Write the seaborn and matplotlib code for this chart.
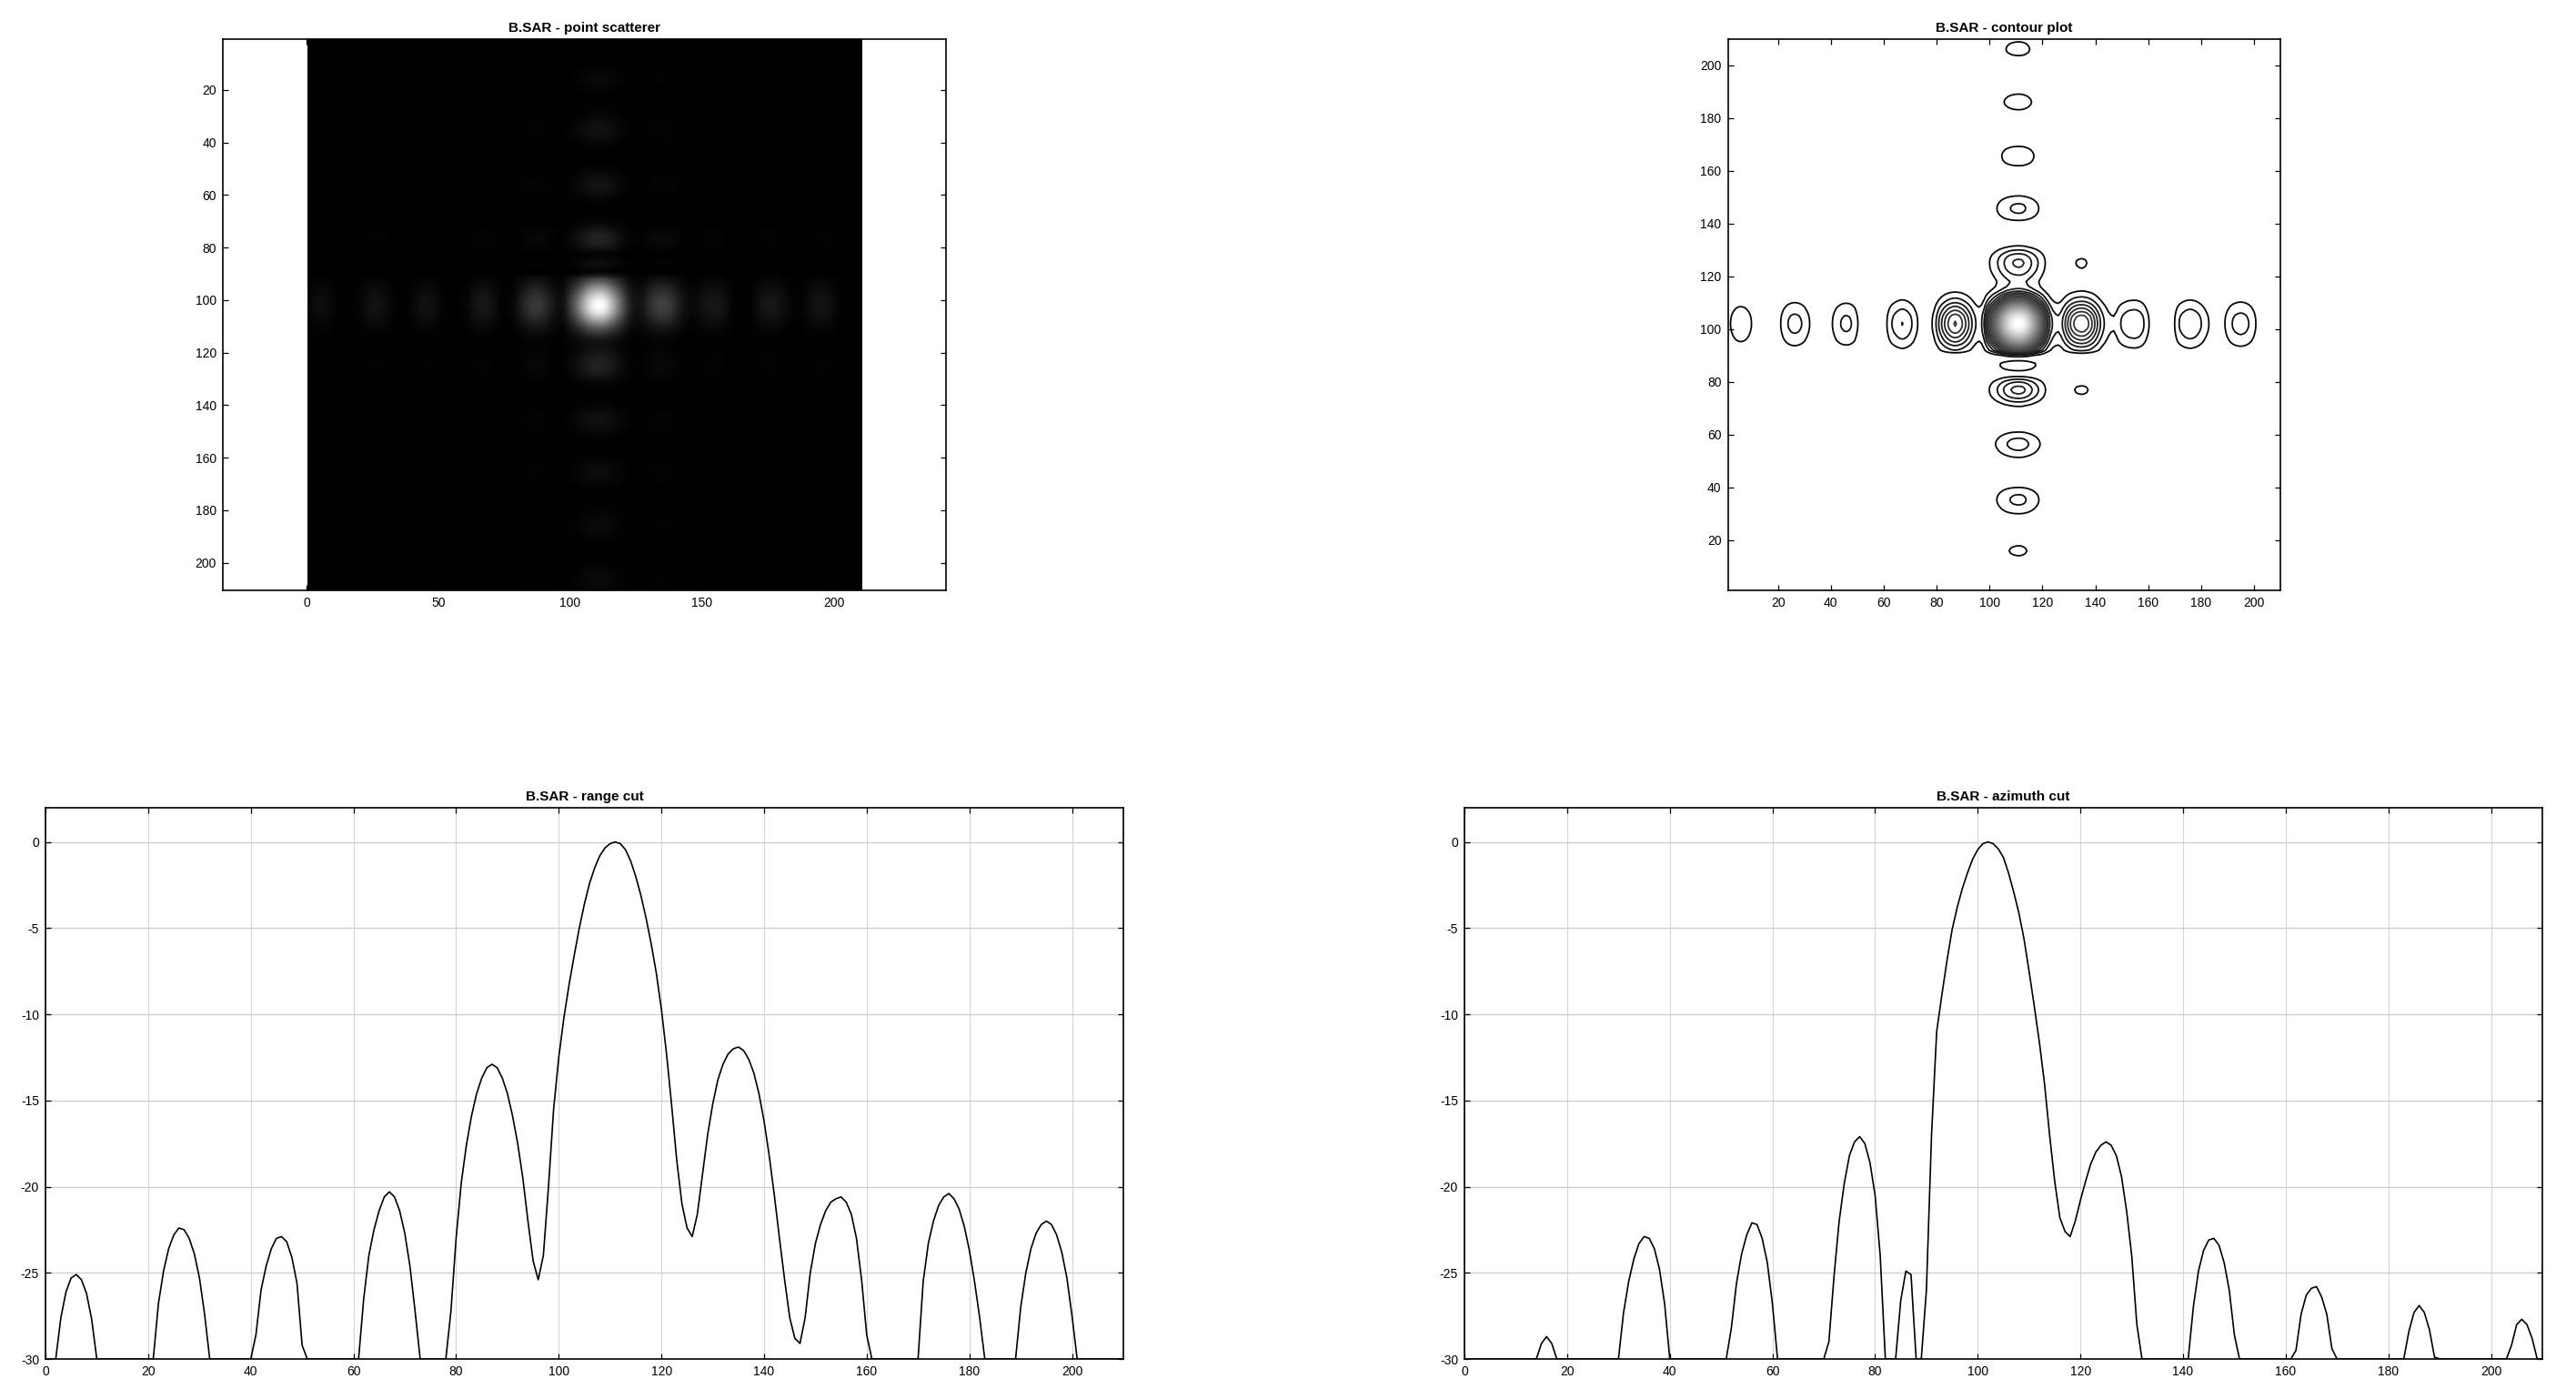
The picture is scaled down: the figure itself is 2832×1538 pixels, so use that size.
import numpy as np
import matplotlib
matplotlib.use('Agg')
import matplotlib.pyplot as plt
import seaborn as sns

# --- Data ---
# cuts in dB, one value per sample 1..210, values under -30 are guesses (they fall off the plot)
samples = list(range(1, 211))
range_db = [-36, -30, -27.6, -26.1, -25.3, -25.1, -25.4, -26.2, -27.7, -30,
            -35, -40, -44, -46, -46, -44, -42, -40, -37, -34,
            -30, -26.8, -24.9, -23.6, -22.8, -22.4, -22.5, -23, -23.9, -25.3,
            -27.4, -30, -35, -40, -44, -46, -45, -42, -37, -32,
            -28.6, -26, -24.6, -23.6, -23, -22.9, -23.2, -24.1, -25.6, -29.2,
            -33, -38, -42, -46, -48, -48, -46, -42, -38, -34,
            -31, -26.5, -24, -22.5, -21.4, -20.6, -20.3, -20.6, -21.4, -22.7,
            -24.6, -27.2, -30.6, -35, -40, -40, -36, -31.2, -27.2, -23,
            -19.8, -17.6, -15.9, -14.6, -13.7, -13.1, -12.9, -13.1, -13.7, -14.6,
            -15.9, -17.5, -19.5, -22, -24.3, -25.4, -24, -20, -15.5, -12.5,
            -10.2, -8.3, -6.6, -5, -3.6, -2.4, -1.5, -0.8, -0.35, -0.1,
            0, -0.1, -0.45, -1.1, -2, -3.1, -4.4, -5.9, -7.6, -9.7,
            -12.3, -15.3, -18.5, -21, -22.4, -22.9, -21.6, -19.3, -17, -15.2,
            -13.8, -12.9, -12.3, -12, -11.9, -12.1, -12.6, -13.4, -14.6, -16.2,
            -18.2, -20.5, -23, -25.4, -27.6, -28.8, -29.1, -27.6, -25, -23.3,
            -22.2, -21.4, -20.9, -20.7, -20.6, -20.9, -21.6, -23, -25.4, -28.6,
            -33, -38, -42, -46, -46, -44, -41, -37, -33, -30,
            -25.5, -23.3, -22, -21.1, -20.6, -20.4, -20.7, -21.3, -22.3, -23.7,
            -25.5, -27.6, -30, -34, -38, -40, -39, -35, -30, -27,
            -25, -23.6, -22.7, -22.2, -22, -22.2, -22.8, -23.8, -25.3, -27.5,
            -31, -35, -38, -41, -43, -44, -44, -43, -42, -40]
azimuth_db = [-44, -44, -45, -46, -47, -48, -46, -44, -42, -40,
              -38, -36, -33, -30, -29.1, -28.7, -29.1, -30, -33, -36,
              -40, -44, -46, -46, -45, -42, -39, -36, -33, -30,
              -27.3, -25.5, -24.2, -23.3, -22.9, -23, -23.6, -24.8, -26.8, -30,
              -34, -38, -42, -46, -48, -48, -46, -42, -38, -34,
              -31, -28.2, -25.6, -23.9, -22.8, -22.1, -22.2, -23, -24.4, -26.8,
              -30, -34, -38, -42, -45, -44, -41, -38, -35, -32,
              -29, -25.2, -22, -19.8, -18.2, -17.4, -17.1, -17.5, -18.6, -20.5,
              -24, -30, -36, -31, -26.6, -24.9, -25.1, -30, -36, -26,
              -17, -11, -8.9, -6.9, -5.1, -3.8, -2.7, -1.8, -1, -0.45,
              -0.1, 0, -0.1, -0.4, -0.9, -1.8, -2.9, -4.1, -5.6, -7.5,
              -9.5, -11.6, -14, -17, -19.7, -21.8, -22.6, -22.9, -22, -20.8,
              -19.7, -18.7, -18, -17.6, -17.4, -17.6, -18.2, -19.4, -21.4, -24,
              -28, -32, -36, -40, -44, -46, -44, -40, -36, -33,
              -30.5, -27, -24.9, -23.7, -23.1, -23, -23.4, -24.4, -26, -28.6,
              -32, -36, -40, -44, -46, -46, -44, -42, -39, -36,
              -33, -29.5, -27.4, -26.3, -25.9, -25.8, -26.4, -27.4, -29.4, -32.5,
              -36, -40, -43, -46, -46, -45, -43, -40, -37, -35,
              -33.5, -32, -30, -28.4, -27.3, -26.9, -27.3, -28.3, -29.9, -33,
              -36, -40, -44, -46, -47, -46, -44, -42, -40, -38,
              -36, -33, -31, -29.2, -28, -27.7, -28, -28.8, -30.2, -33]

floor_db = -30
contour_step = 0.032
contour_count = 31

titles = ['B.SAR - point scatterer', 'B.SAR - contour plot', 'B.SAR - range cut', 'B.SAR - azimuth cut']
image_xticks = [0, 50, 100, 150, 200]
grid_ticks = [20, 40, 60, 80, 100, 120, 140, 160, 180, 200]
cut_xticks = [0, 20, 40, 60, 80, 100, 120, 140, 160, 180, 200]
cut_yticks = [0, -5, -10, -15, -20, -25, -30]

# --- Setup ---
sns.set_theme(style="ticks")
plt.rcParams['font.family'] = ['Liberation Sans', 'DejaVu Sans']
plt.rcParams['axes.unicode_minus'] = False
W, H = 2832, 1538
fig = plt.figure(figsize=(W / 100, H / 100), dpi=100, facecolor='white')


def make_axes(left, right, top, bottom, title):
    ax = fig.add_axes([left / W, 1 - bottom / H, (right - left) / W, (bottom - top) / H])
    ax.set_title(title, fontsize=11, fontweight='bold', color='black', pad=5.5)
    ax.tick_params(direction='in', length=4, width=0.9, top=True, right=True,
                   labelsize=10, colors='black', pad=5)
    for s in ax.spines.values():
        s.set_visible(True)
        s.set_color('black')
        s.set_linewidth(1.2)
    return ax


# the image can't be listed pixel by pixel, so the cells come from the two read cuts
amp_range = 10 ** (np.array(range_db) / 20)
amp_azimuth = 10 ** (np.array(azimuth_db) / 20)
amp = np.outer(amp_azimuth, amp_range)

# --- Point scatterer ---
ax1 = make_axes(245, 1040, 42.5, 649, titles[0])
ax1.imshow(amp, cmap='gray', vmin=0, vmax=1, interpolation='bilinear', aspect='auto',
           extent=(0.5, 210.5, 210.5, 0.5))
ax1.set_xlim(-31.7, 242.4)
ax1.set_ylim(210.5, 0.5)
ax1.set_xticks(image_xticks)
ax1.set_yticks(grid_ticks)

# --- Contour plot ---
ax2 = make_axes(1899.5, 2507, 42.5, 649, titles[1])
ax2.contour(samples, samples, amp, levels=contour_step * np.arange(1, contour_count),
            cmap='gray', vmin=0, vmax=1, linewidths=1.3)
ax2.set_xlim(1, 210)
ax2.set_ylim(1, 210)
ax2.set_xticks(grid_ticks)
ax2.set_yticks(grid_ticks)


# --- Cuts ---
def plot_cut(left, right, xs, ys, title):
    ax = make_axes(left, right, 887.7, 1494, title)
    sns.lineplot(x=xs, y=np.maximum(ys, floor_db), ax=ax, color='black', linewidth=1.2,
                 estimator=None, sort=False)
    ax.set_xlim(0, 210)
    ax.set_ylim(-30, 2)
    ax.set_xticks(cut_xticks)
    ax.set_yticks(cut_yticks)
    ax.grid(True, axis='x', color='#d6d6d6', linewidth=0.8)
    ax.grid(True, axis='y', color='#cfcfcf', linewidth=1.0)
    ax.set_axisbelow(True)
    return ax


plot_cut(50, 1235, samples, range_db, titles[2])
plot_cut(1610, 2795, samples, azimuth_db, titles[3])

fig.savefig('out.png', dpi=100)
